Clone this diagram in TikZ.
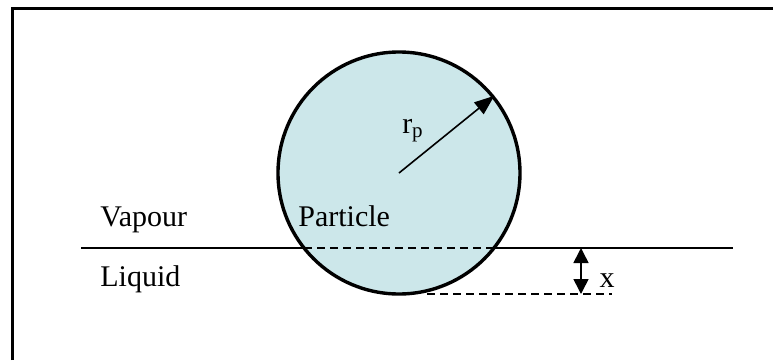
\documentclass[tikz,border=0pt]{standalone}
\usepackage{fontspec}
\setmainfont{Liberation Serif}
\usetikzlibrary{arrows.meta}
\definecolor{particleFill}{HTML}{CCE7EA}

\begin{document}
\begin{tikzpicture}[
  x=0.5pt,y=-0.5pt,
  frame/.style={draw=black,line width=1.5pt},
  surface/.style={draw=black,line width=0.7pt},
  particle/.style={circle,draw=black,fill=particleFill,line width=1.7pt,minimum size=121pt,inner sep=0pt},
  guide/.style={draw=black,line width=0.7pt,dash pattern=on 4pt off 2.5pt},
  label/.style={font=\fontsize{15}{18}\selectfont,inner sep=0pt},
  arrow/.style={-{Triangle[length=10pt,width=7.5pt]},draw=black,line width=0.8pt},
  gap/.style={{Triangle[length=7.5pt,width=7.5pt]}-{Triangle[length=7.5pt,width=7.5pt]},draw=black,line width=0.8pt}
]
\useasboundingbox (0,0) rectangle (773,360);
\draw[frame] (12,360) -- (12,8) -- (773,8);
% interface
\coordinate (ifl) at (81,248);
\coordinate (ifr) at (733,248);
\draw[surface] (ifl) -- (ifr);
\node[particle] (part) at (399,173) {};
\coordinate (cl) at (304,248);
\coordinate (cr) at (494,248);
\draw[guide] (cl) -- (cr);
\coordinate (bl) at (427,294);
\coordinate (br) at (612,294);
\draw[guide] (bl) -- (br);
\draw[arrow] (part.center) -- (part.39);
\node[label] (rp) at (413,131) {r\textsubscript{p}};
\node[label,anchor=base west] (vap) at (100,226) {Vapour};
\node[label,anchor=base west] (liq) at (100,286) {Liquid};
\node[label,anchor=base west] (ptxt) at (298,226) {Particle};
\coordinate (xt) at (581,248);
\coordinate (xb) at (581,294);
\draw[gap] (xt) -- (xb);
\node[label] (xlab) at (607,281) {x};
\end{tikzpicture}
\end{document}
